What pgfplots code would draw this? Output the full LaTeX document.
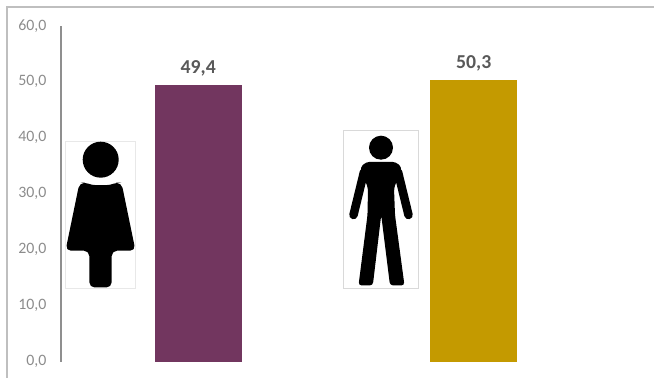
\documentclass[border=0pt]{standalone}
\usepackage{pgfplots}
\pgfplotsset{compat=1.18}
\usepackage{fontspec}
\setmainfont{Carlito}
\definecolor{plum}{HTML}{72365F}
\definecolor{ochre}{HTML}{C49A00}
\definecolor{ticktext}{HTML}{8C8C8C}
\definecolor{valuetext}{HTML}{595959}
\definecolor{axisgray}{HTML}{8F8F8F}
\definecolor{framegray}{HTML}{BFBFBF}
\begin{document}
\begin{tikzpicture}
  % page size: 654 x 378 units of 0.75pt
  \path[use as bounding box] (0pt,0pt) rectangle (490.5pt,283.5pt);

  \begin{axis}[
    at={(45.375pt,12.2pt)}, anchor=south west,
    scale only axis,
    width=413.25pt, height=252pt,
    xmin=-0.5, xmax=1.5, ymin=0, ymax=60,
    axis x line=none,
    axis y line=left,
    y axis line style={-,draw=axisgray,line width=1.5pt},
    ytick={0,10,...,60},
    major tick length=0pt,
    yticklabel style={
      font=\fontsize{11.9}{12}\selectfont, text=ticktext,
      xshift=-7pt,
      /pgf/number format/.cd, fixed, fixed zerofill, precision=1,
      use comma, assume math mode=true},
    ybar, bar shift=0pt, bar width=64.9pt,
    nodes near coords,
    every node near coord/.append style={
      font=\fontsize{14.8}{15}\selectfont\bfseries, text=valuetext,
      yshift=3.5pt,
      /pgf/number format/.cd, fixed, fixed zerofill, precision=1,
      use comma, assume math mode=true},
    clip=false,
  ]
    \addplot[fill=plum,draw=none] coordinates {(0,49.4)};
    \addplot[fill=ochre,draw=none] coordinates {(1,50.3)};
  \end{axis}

  \begin{scope}[x=0.75pt,y=-0.75pt,yshift=283.5pt]
    % outer frame: only its top and left edges show
    \draw[framegray,line width=1.1pt] (7,378) -- (7,7) -- (654,7);

    % female pictogram
    \draw[draw=black!9,line width=0.6pt,fill=white] (65.3,141.3) rectangle (135.7,288.3);
    \fill (100.7,159.7) circle[radius=18];
    \fill[rounded corners=4pt]
      (79.5,182.7) -- (86,182.7) .. controls (94,185.5) and (108,185.5) .. (116,182.7)
      -- (121.5,182.7) -- (135.5,250.7) -- (111.7,250.7) -- (111.7,287.5)
      -- (89.3,287.5) -- (89.3,250.7) -- (65.5,250.7) -- cycle;

    % male pictogram: torso and legs, arms stroked with round ends
    \draw[draw=black!15,line width=0.6pt,fill=white] (343.3,130) rectangle (418.7,288.3);
    \fill (381,147.7) circle[radius=12];
    \draw[line width=6.4pt,line cap=round] (364,172) -- (353.5,215);
    \draw[line width=6.4pt,line cap=round] (398,172) -- (408.5,215);
    \fill[rounded corners=2.4pt]
      (366,162) -- (396,162) -- (402,168) -- (394,188)
      -- (395,215) -- (404.5,285.5) -- (390,285.5) -- (381.2,215) -- (372.8,285.5)
      -- (358.5,285.5) -- (367.5,215) -- (368,188) -- (360,168) -- cycle;
  \end{scope}
\end{tikzpicture}
\end{document}
